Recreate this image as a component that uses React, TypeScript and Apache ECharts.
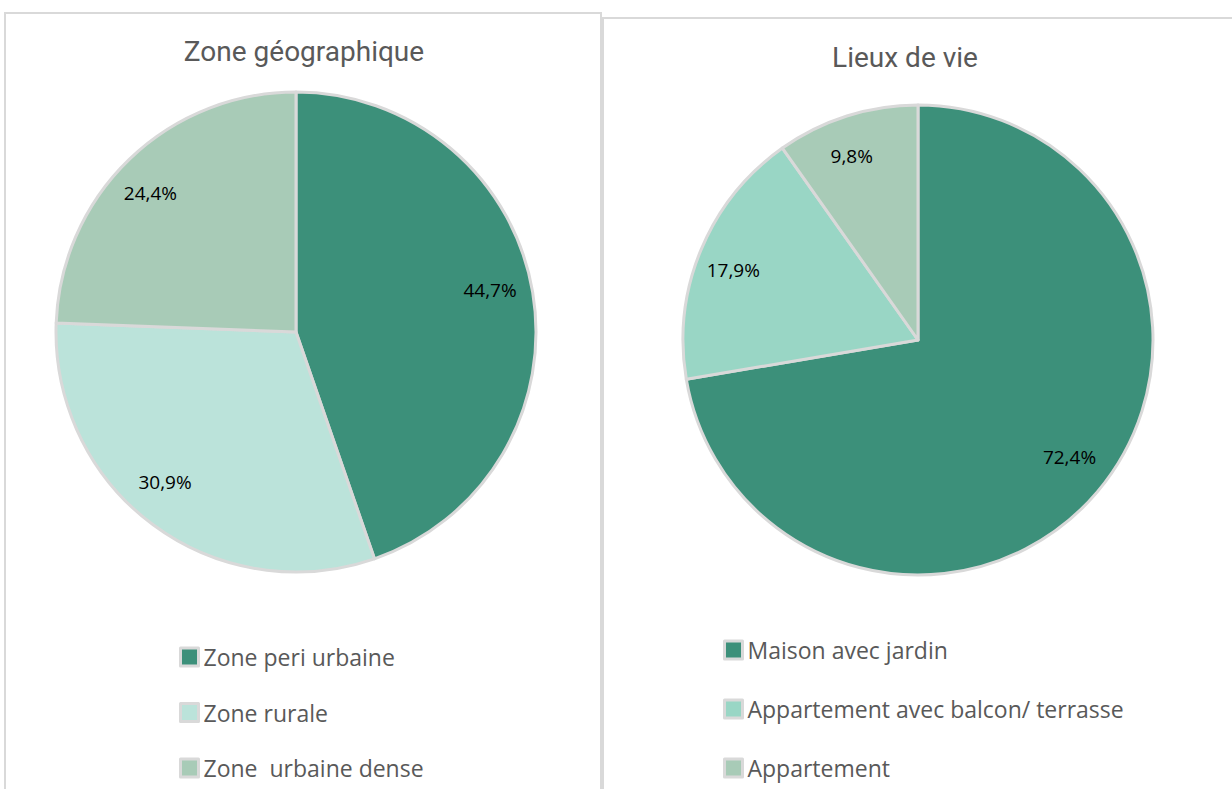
import React, { useEffect, useRef } from "react";
import * as echarts from "echarts";

const zoneNames = ["Zone peri urbaine", "Zone rurale", "Zone  urbaine dense"];
const zoneValues = [44.7, 30.9, 24.4];
const zoneColors = ["#3c907a", "#bbe3da", "#a8cbb7"];

const lieuNames = ["Maison avec jardin", "Appartement avec balcon/ terrasse", "Appartement"];
const lieuValues = [72.4, 17.9, 9.8];
const lieuColors = ["#3c907a", "#99d6c5", "#a8cbb7"];

const titles = ["Zone géographique", "Lieux de vie"];

// small label nudges (Excel "best fit" placement)
const zoneLabelNudge = [[-3, -9], [-12, -11], [-7, 5]];
const lieuLabelNudge = [[2, -9], [-4, 5], [-7, 3]];

const fmt = (p: any) => Number(p.value).toFixed(1).replace(".", ",") + "%";

export default function App() {
  const ref = useRef<HTMLDivElement>(null);
  useEffect(() => {
    if (!ref.current) return;
    const chart = echarts.init(ref.current, null, { renderer: "svg" });
    const mk = (names: string[], values: number[], colors: string[]) =>
      names.map((n, i) => ({ name: n, value: values[i], itemStyle: { color: colors[i] } }));

    const leftR = 240;
    const rightR = 235;
    const labelFrac = 0.82;

    const basePie = {
      type: "pie",
      startAngle: 90,
      clockwise: true,
      label: { show: false },
      labelLine: { show: false },
      emphasis: { disabled: true },
      silent: true,
      itemStyle: { borderColor: "#d9d9d9", borderWidth: 3 },
    };
    const labelPie = (center: number[], r: number, data: any[], nudge: number[][]) => ({
      type: "pie",
      startAngle: 90,
      clockwise: true,
      center,
      radius: [0, r * labelFrac * 2],
      silent: true,
      emphasis: { disabled: true },
      data: data.map((d) => ({ ...d, itemStyle: { color: "rgba(0,0,0,0)" } })),
      itemStyle: { color: "rgba(0,0,0,0)", borderWidth: 0 },
      label: {
        show: true,
        position: "inside",
        formatter: fmt,
        color: "#000000",
        fontSize: 19,
        fontFamily: "Open Sans",
      },
      labelLayout: (p: any) => ({ dx: nudge[p.dataIndex][0], dy: nudge[p.dataIndex][1] }),
      labelLine: { show: false },
      z: 5,
    });

    const zoneData = mk(zoneNames, zoneValues, zoneColors);
    const lieuData = mk(lieuNames, lieuValues, lieuColors);

    const legendBase = {
      orient: "vertical",
      icon: "rect",
      padding: 0,
      height: 300,
      itemWidth: 18,
      itemHeight: 18,
      itemStyle: { borderColor: "#d9d9d9", borderWidth: 3 },
      textStyle: { color: "#595959", fontSize: 23, fontFamily: "Open Sans", lineHeight: 24 },
      selectedMode: false,
    };

    chart.setOption({
      animation: false,
      backgroundColor: "#ffffff",
      graphic: [
        {
          type: "rect",
          shape: { x: 5, y: 13, width: 596, height: 800 },
          style: { fill: "#ffffff", stroke: "#d9d9d9", lineWidth: 2 },
          z: -10,
          silent: true,
        },
        {
          type: "rect",
          shape: { x: 603, y: 18, width: 700, height: 800 },
          style: { fill: "#ffffff", stroke: "#d9d9d9", lineWidth: 2 },
          z: -10,
          silent: true,
        },
      ],
      title: [
        {
          text: titles[0],
          left: 299,
          top: 32,
          textAlign: "center",
          textStyle: { color: "#595959", fontSize: 28, fontWeight: "normal", fontFamily: "Roboto" },
        },
        {
          text: titles[1],
          left: 900,
          top: 38,
          textAlign: "center",
          textStyle: { color: "#595959", fontSize: 28, fontWeight: "normal", fontFamily: "Roboto" },
        },
      ],
      legend: [
        { ...legendBase, left: 179, top: 645, itemGap: 31.5, data: zoneNames },
        { ...legendBase, left: 723, top: 638, itemGap: 35, data: lieuNames },
      ],
      series: [
        { ...basePie, center: [296, 332], radius: [0, leftR], data: zoneData },
        { ...basePie, center: [918, 340], radius: [0, rightR], data: lieuData },
        labelPie([296, 332], leftR, zoneData, zoneLabelNudge),
        labelPie([918, 340], rightR, lieuData, lieuLabelNudge),
      ],
    });
    return () => chart.dispose();
  }, []);
  return (
    <div
      ref={ref}
      style={{ position: "absolute", left: 0, top: 0, width: 1232, height: 789 }}
    />
  );
}
